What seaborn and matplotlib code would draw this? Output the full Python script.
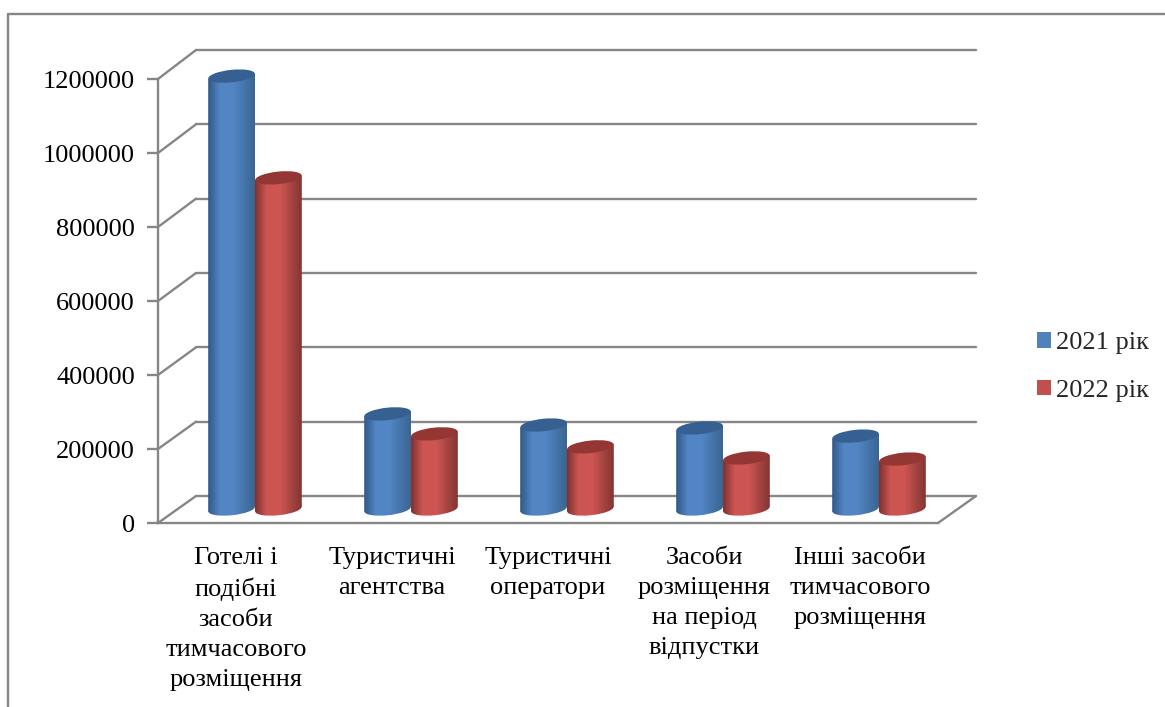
import numpy as np
import pandas as pd
import seaborn as sns
import matplotlib.pyplot as plt
from matplotlib.colors import LinearSegmentedColormap
from matplotlib.lines import Line2D
from matplotlib.patches import Ellipse, Patch, Polygon
from matplotlib.transforms import IdentityTransform

categories = [
    "Готелі і\nподібні\nзасоби\nтимчасового\nрозміщення",
    "Туристичні\nагентства",
    "Туристичні\nоператори",
    "Засоби\nрозміщення\nна період\nвідпустки",
    "Інші засоби\nтимчасового\nрозміщення",
]
series_names = ["2021 рік", "2022 рік"]
values_2021 = [1170000, 257000, 227000, 219000, 197000]
values_2022 = [895000, 203000, 168000, 138000, 135000]
y_ticks = [0, 200000, 400000, 600000, 800000, 1000000, 1200000]

W, H = 1165, 707
GRAY = "#868686"
FONT = 19
TILT = 6
LW = 1.7

sns.set_style("white")
plt.rcParams["font.family"] = ["Liberation Serif", "DejaVu Serif"]

df = pd.DataFrame({
    "category": categories * 2,
    "year": [series_names[0]] * 5 + [series_names[1]] * 5,
    "value": values_2021 + values_2022,
})

fig = plt.figure(figsize=(W / 100, H / 100), dpi=100)


def add_axes_px(left, right, bottom, top):
    ax = fig.add_axes([left / W, 1 - bottom / H, (right - left) / W, (bottom - top) / H])
    ax.patch.set_alpha(0)
    return ax


def px_line(xs, ys):
    fig.add_artist(Line2D(xs, [H - y for y in ys], color=GRAY, lw=LW,
                          transform=IdentityTransform(), zorder=-1))


# back wall
ax_back = add_axes_px(196, 976, 496, 50)
ax_back.set_xlim(0, 1)
ax_back.set_ylim(0, 1200000)
ax_back.set_yticks(y_ticks)
ax_back.set_xticks([])
ax_back.tick_params(left=False, labelleft=False)
ax_back.grid(axis="y", color=GRAY, lw=LW, clip_on=False)
sns.despine(ax=ax_back, left=True, bottom=True)

# front axis with the labels
ax_front = add_axes_px(158, 938, 523, 79)
ax_front.set_xlim(-0.5, 4.5)
ax_front.set_ylim(0, 1200000)
ax_front.set_yticks(y_ticks)
ax_front.set_yticklabels([str(v) for v in y_ticks], fontsize=FONT, color="black")
ax_front.set_xticks(np.arange(-0.5, 5))
ax_front.set_xticklabels([])
ax_front.set_xticks(range(5), categories, minor=True, fontsize=FONT, linespacing=1.48, color="black")
ax_front.tick_params(axis="x", which="minor", length=0, pad=17)
ax_front.tick_params(axis="x", which="major", length=6, width=LW, color=GRAY)
ax_front.tick_params(axis="y", length=8, width=LW, color=GRAY, left=True, pad=8.5)
sns.despine(ax=ax_front)
for side in ["left", "bottom"]:
    ax_front.spines[side].set_color(GRAY)
    ax_front.spines[side].set_linewidth(LW)

# floor and side diagonals between the front axis and the back wall
for v in y_ticks:
    p0 = ax_front.transData.transform((-0.5, v))
    p1 = ax_back.transData.transform((0, v))
    fig.add_artist(Line2D([p0[0], p1[0]], [p0[1], p1[1]], color=GRAY, lw=LW,
                          transform=IdentityTransform(), zorder=-1))
px_line([938, 976], [523, 496])

# outer chart frame
px_line([8, 8, W], [H, 14, 14])

# bars
ax_bar = add_axes_px(177, 957, 509 + 40000 * 370 / 1e6, 509 - 1300000 * 370 / 1e6)
palette = {series_names[0]: "#4f81bd", series_names[1]: "#c0504d"}
sns.barplot(data=df, x="category", y="value", hue="year", order=categories,
            hue_order=series_names, palette=palette, width=0.6, gap=0,
            legend=False, saturation=1, ax=ax_bar)
ax_bar.set_xlim(-0.5, 4.5)
ax_bar.set_ylim(-40000, 1300000)
ax_bar.axis("off")

shades = [
    {"edge_l": "#2f5886", "mid": "#5285c4", "edge_r": "#3a6591", "top": "#376092"},
    {"edge_l": "#7e3130", "mid": "#cc5552", "edge_r": "#823432", "top": "#943634"},
]
ramp = np.linspace(0, 1, 256).reshape(1, -1)
rise = np.sin(np.radians(TILT))
for s, (container, shade) in enumerate(zip(ax_bar.containers, shades)):
    cmap = LinearSegmentedColormap.from_list(
        "cyl", [(0, shade["edge_l"]), (0.25, shade["mid"]), (0.55, shade["mid"]), (1, shade["edge_r"])])
    for bar in container:
        x0, x1 = bar.get_x(), bar.get_x() + bar.get_width()
        h = bar.get_height()
        bar.set_alpha(0)
        z = 3 + s
        cx, cy = ax_bar.transData.transform(((x0 + x1) / 2, h))
        bx, by = ax_bar.transData.transform(((x0 + x1) / 2, 0))
        w = ax_bar.transData.transform((x1, 0))[0] - ax_bar.transData.transform((x0, 0))[0]
        dy = w / 2 * rise
        extent = [x0, x1, -40000, h + 20000]
        # the side of the cylinder ends on the slanted axis of both end ellipses
        side = Polygon([(bx - w / 2, by - dy), (bx + w / 2, by + dy),
                        (cx + w / 2, cy + dy), (cx - w / 2, cy - dy)],
                       transform=IdentityTransform())
        body = ax_bar.imshow(ramp, cmap=cmap, extent=extent, aspect="auto",
                             interpolation="nearest", zorder=z)
        body.set_clip_path(side)
        base = Ellipse((bx, by), w, 12.5, angle=TILT, transform=IdentityTransform())
        foot = ax_bar.imshow(ramp, cmap=cmap, extent=extent, aspect="auto",
                             interpolation="nearest", zorder=z)
        foot.set_clip_path(base)
        ax_bar.add_artist(Ellipse((cx, cy), w, 12.5, angle=TILT, facecolor=shade["top"],
                                  edgecolor="none", transform=IdentityTransform(), zorder=z + 0.1))
ax_bar.set_xlim(-0.5, 4.5)
ax_bar.set_ylim(-40000, 1300000)

handles = [Patch(facecolor=palette[name], edgecolor="none", label=name) for name in series_names]
fig.legend(handles=handles, loc="center left", bbox_to_anchor=(1037 / W, 1 - 367 / H),
           frameon=False, fontsize=FONT, borderpad=0, borderaxespad=0,
           handlelength=0.53, handleheight=0.53, handletextpad=0.18, labelspacing=0.95)

fig.savefig("out.png", dpi=100)
